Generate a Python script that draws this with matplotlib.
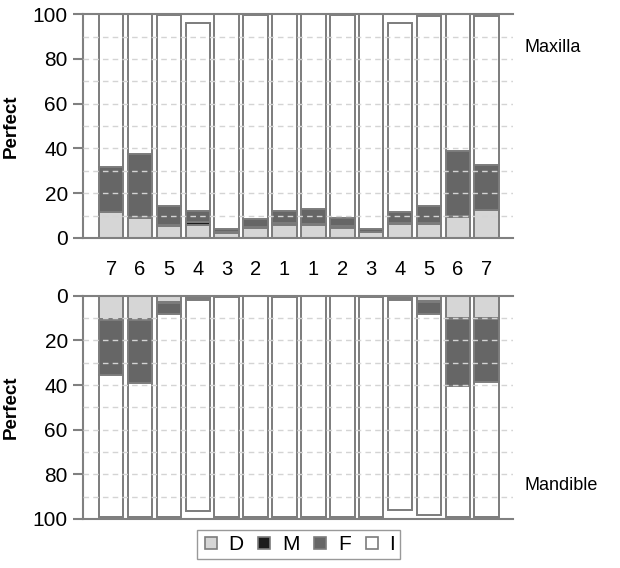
import numpy as np
from matplotlib import pyplot as plt
from matplotlib.lines import Line2D

# tooth positions, from the left molar across the midline to the right molar
teeth = ['7', '6', '5', '4', '3', '2', '1', '1', '2', '3', '4', '5', '6', '7']

# maxilla (upper jaw), percent of cases per category
max_D = [11.4, 8.9, 5.4, 6.0, 2.4, 4.6, 5.9, 5.7, 4.6, 2.5, 6.3, 6.3, 9.6, 12.3]
max_M = [0.4, 0.4, 0.6, 1.0, 0.4, 0.4, 0.6, 0.6, 0.6, 0.4, 0.6, 0.6, 0.4, 0.4]
max_F = [20.0, 28.4, 8.1, 5.2, 1.2, 3.4, 5.5, 6.6, 3.7, 1.3, 4.7, 7.6, 29.0, 19.9]
max_total = [100, 100, 99.5, 96, 100, 99.5, 100, 100, 99.5, 100, 96, 99, 100, 99]

# mandible (lower jaw)
man_D = [10.5, 10.5, 3.0, 1.0, 0.2, 0.0, 0.0, 0.0, 0.0, 0.2, 1.0, 2.5, 10.0, 10.0]
man_M = [0.5, 0.5, 0.3, 0.6, 0.5, 0.2, 0.5, 0.2, 0.2, 0.5, 0.6, 0.3, 0.5, 0.5]
man_F = [24.5, 28.0, 5.0, 0.3, 0.0, 0.0, 0.0, 0.0, 0.0, 0.0, 0.3, 5.4, 30.0, 28.0]
man_total = [99, 99, 99, 96.5, 99, 99, 99, 99, 99, 99, 96, 98, 99, 99]

cat_names = ['D', 'M', 'F', 'I']
cat_colors = ['#d6d6d6', '#1c1c1c', '#666666', '#ffffff']
edge = '#7c7c7c'

plt.rcParams['font.family'] = ['Liberation Sans', 'DejaVu Sans']


def stacked(ax, D, M, F, total):
    D = np.array(D)
    M = np.array(M)
    F = np.array(F)
    I = np.array(total) - D - M - F
    x = np.arange(len(D))
    bottom = np.zeros(len(D))
    for vals, c in zip([D, M, F, I], cat_colors):
        ax.bar(x, vals, width=0.85, bottom=bottom, color=c,
               edgecolor=edge, linewidth=1.4, zorder=2)
        bottom = bottom + vals
    for g in range(10, 100, 10):
        ax.axhline(g, color='#d4d4d4', lw=1, ls=(0, (4, 3)), zorder=3)
    ax.set_xlim(-0.97, 13.92)
    ax.set_ylim(0, 100)
    ax.set_yticks(range(0, 101, 20))
    ax.spines['right'].set_visible(False)
    for s in ['left', 'top', 'bottom']:
        ax.spines[s].set_color('#808080')
        ax.spines[s].set_linewidth(1.5)
    ax.tick_params(axis='y', length=7, width=1.5, color='#808080',
                   labelsize=15, pad=4)
    ax.set_ylabel('Perfect', fontsize=13.5, fontweight='bold', labelpad=9)


fig = plt.figure(figsize=(6.2, 5.68), dpi=100)

ax1 = fig.add_axes([0.134, 0.581, 0.694, 0.394])
stacked(ax1, max_D, max_M, max_F, max_total)
ax1.set_xticks(np.arange(len(teeth)))
ax1.set_xticklabels(teeth)
ax1.tick_params(axis='x', length=0, labelsize=14.5, pad=16)
ax1.text(1.025, 0.85, 'Maxilla', transform=ax1.transAxes,
         fontsize=13, va='center', ha='left')

ax2 = fig.add_axes([0.134, 0.0863, 0.694, 0.393])
stacked(ax2, man_D, man_M, man_F, man_total)
ax2.invert_yaxis()
ax2.set_xticks([])
ax2.text(1.025, 0.15, 'Mandible', transform=ax2.transAxes,
         fontsize=13, va='center', ha='left')

handles = [Line2D([], [], ls='none', marker='s', markersize=8,
                  markerfacecolor=c, markeredgecolor=edge, markeredgewidth=1.2)
           for c in cat_colors]
fig.legend(handles, cat_names, loc='lower center', ncol=4,
           bbox_to_anchor=(0.482, -0.003), frameon=True, fancybox=False,
           edgecolor='#808080', fontsize=15, handlelength=0.8,
           handletextpad=0.45, columnspacing=0.6, borderpad=0.25)

plt.savefig('out.png', dpi=100)
